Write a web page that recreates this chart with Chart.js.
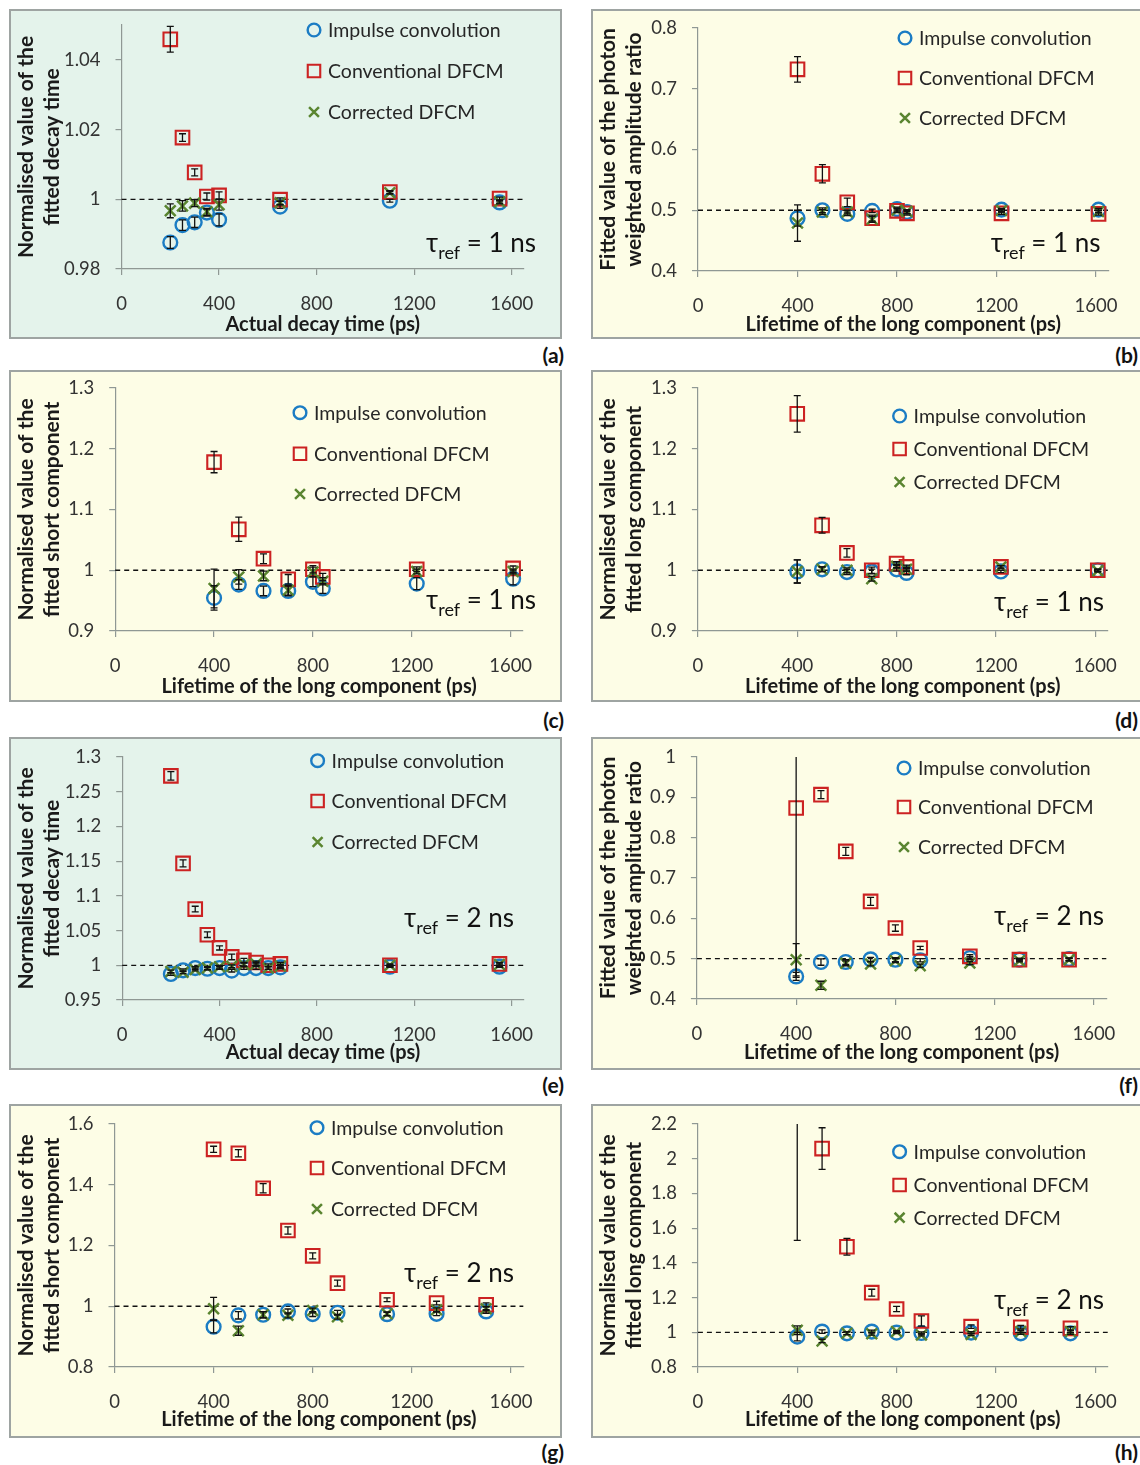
<!DOCTYPE html>
<html><head><meta charset="utf-8">
<script src="https://cdn.jsdelivr.net/npm/chart.js@4.4.1/dist/chart.umd.min.js"></script>
<style>
body{margin:0;background:#fff;width:1140px;height:1465px;position:relative;overflow:hidden;font-family:Lato,sans-serif}
.panel{position:absolute;box-sizing:border-box;border:2px solid #9ea4a2}
.green{background:#e4f3eb}
.yellow{background:#fdfde6}
canvas{position:absolute}
.lab{position:absolute;font:bold 21px Lato,sans-serif;color:#111;text-align:right;width:40px;line-height:24px}
</style></head><body>
<script>
// ---------------- DATA ----------------
const seriesNames = ['Impulse convolution', 'Conventional DFCM', 'Corrected DFCM'];
const xTickLabels = [0, 400, 800, 1200, 1600];
const panelLetters = ['(a)', '(b)', '(c)', '(d)', '(e)', '(f)', '(g)', '(h)'];
const tauLabels = ['1 ns', '1 ns', '1 ns', '1 ns', '2 ns', '2 ns', '2 ns', '2 ns'];
const refLines = [1, 0.5, 1, 1, 1, 0.5, 1, 1];
const yTitleDecay = ['Normalised value of the', 'fitted decay time'];
const yTitleRatio = ['Fitted value of the photon', 'weighted amplitude ratio'];
const yTitleShort = ['Normalised value of the', 'fitted short component'];
const yTitleLong = ['Normalised value of the', 'fitted long component'];
const xTitleActual = 'Actual decay time (ps)';
const xTitleLong = 'Lifetime of the long component (ps)';

// (a) tau_ref = 1 ns, decay time
const xA = [200, 250, 300, 350, 400, 650, 1100, 1550];
const aImp = [0.9876, 0.9926, 0.9934, 0.9962, 0.9941, 0.9979, 0.9996, 0.9991];
const aImpErr = [0.0017, 0.0015, 0.0015, 0.001, 0.0017, 0.0005, 0.0004, 0.0004];
const aConv = [1.0459, 1.0177, 1.0077, 1.0008, 1.0011, 0.9999, 1.0021, 1.0002];
const aConvErr = [0.0037, 0.0011, 0.001, 0.001, 0.001, 0.0005, 0.0004, 0.0004];
const aCorr = [0.9967, 0.9981, 0.9989, 0.9964, 0.9984, 0.999, 1.0019, 0.9993];
const aCorrErr = [0.002, 0.0015, 0.001, 0.001, 0.0015, 0.0005, 0.0004, 0.0004];
const aYTicks = [0.98, 1, 1.02, 1.04];

// (b) tau_ref = 1 ns, amplitude ratio
const xB = [400, 500, 600, 700, 800, 840, 1220, 1610];
const bImp = [0.487, 0.500, 0.494, 0.499, 0.502, 0.497, 0.501, 0.501];
const bImpErr = [0.013, 0.004, 0.003, 0.003, 0.003, 0.003, 0.002, 0.002];
const bConv = [0.732, 0.560, 0.513, 0.487, 0.499, 0.495, 0.495, 0.494];
const bConvErr = [0.021, 0.015, 0.007, 0.005, 0.003, 0.003, 0.002, 0.002];
const bCorr = [0.479, 0.497, 0.497, 0.485, 0.500, 0.498, 0.4995, 0.498];
const bCorrErr = [0.030, 0.004, 0.003, 0.005, 0.003, 0.003, 0.002, 0.002];
const bYTicks = [0.4, 0.5, 0.6, 0.7, 0.8];

// (c) tau_ref = 1 ns, short component
const xC = [400, 500, 600, 700, 800, 840, 1220, 1610];
const cImp = [0.9545, 0.9764, 0.966, 0.966, 0.981, 0.970, 0.978, 0.986];
const cImpErr = [0.02, 0.008, 0.008, 0.008, 0.008, 0.008, 0.01, 0.01];
const cConv = [1.178, 1.0674, 1.019, 0.985, 1.0016, 0.989, 1.0016, 1.003];
const cConvErr = [0.0175, 0.02, 0.008, 0.008, 0.006, 0.006, 0.004, 0.004];
const cCorr = [0.970, 0.989, 0.9907, 0.967, 0.997, 0.982, 0.998, 0.998];
const cCorrErr = [0.032, 0.012, 0.008, 0.008, 0.008, 0.006, 0.004, 0.004];
const cYTicks = [0.9, 1, 1.1, 1.2, 1.3];

// (d) tau_ref = 1 ns, long component
const xD = [400, 500, 600, 700, 800, 840, 1220, 1610];
const dImp = [0.998, 1.0016, 0.997, 0.998, 1.0016, 0.9956, 0.998, 1.0];
const dImpErr = [0.019, 0.004, 0.004, 0.004, 0.003, 0.003, 0.002, 0.002];
const dConv = [1.2575, 1.074, 1.0285, 1.0, 1.011, 1.0055, 1.0055, 1.0];
const dConvErr = [0.03, 0.013, 0.007, 0.005, 0.003, 0.003, 0.002, 0.002];
const dCorr = [0.998, 1.0016, 1.0, 0.986, 1.0066, 1.0016, 1.0055, 0.999];
const dCorrErr = [0.019, 0.004, 0.004, 0.004, 0.003, 0.003, 0.002, 0.002];
const dYTicks = [0.9, 1, 1.1, 1.2, 1.3];

// (e) tau_ref = 2 ns, decay time
const xE = [200, 250, 300, 350, 400, 450, 500, 550, 600, 650, 1100, 1550];
const eImp = [0.9875, 0.9928, 0.996, 0.995, 0.996, 0.9923, 0.996, 0.996, 0.996, 0.997, 0.998, 0.998];
const eImpErr = [0.002, 0.002, 0.002, 0.002, 0.002, 0.002, 0.002, 0.002, 0.002, 0.002, 0.001, 0.001];
const eConv = [1.2728, 1.1467, 1.081, 1.044, 1.025, 1.012, 1.007, 1.004, 1.0, 1.002, 1.0, 1.002];
const eConvErr = [0.006, 0.005, 0.004, 0.004, 0.003, 0.004, 0.003, 0.002, 0.002, 0.002, 0.002, 0.002];
const eCorr = [0.991, 0.990, 0.994, 0.996, 0.998, 0.9986, 1.001, 1.002, 0.996, 0.999, 1.0, 1.001];
const eCorrErr = [0.002, 0.002, 0.002, 0.002, 0.002, 0.002, 0.002, 0.002, 0.002, 0.002, 0.001, 0.001];
const eYTicks = [0.95, 1, 1.05, 1.1, 1.15, 1.2, 1.25, 1.3];

// (f) tau_ref = 2 ns, amplitude ratio
const xF = [400, 500, 600, 700, 800, 900, 1100, 1300, 1500];
const fImp = [0.456, 0.4917, 0.4917, 0.4983, 0.4975, 0.496, 0.5017, 0.4975, 0.499];
const fImpErr = [0.01, 0.008, 0.006, 0.005, 0.005, 0.004, 0.004, 0.003, 0.003];
const fConv = [0.8736, 0.9066, 0.766, 0.642, 0.576, 0.5264, 0.5058, 0.4975, 0.4975];
const fConvErr = [0.42, 0.01, 0.01, 0.01, 0.008, 0.004, 0.004, 0.003, 0.003];
const fCorr = [0.4975, 0.434, 0.4884, 0.487, 0.495, 0.4826, 0.489, 0.495, 0.4975];
const fCorrErr = [0.04, 0.01, 0.006, 0.005, 0.005, 0.004, 0.004, 0.003, 0.003];
const fYTicks = [0.4, 0.5, 0.6, 0.7, 0.8, 0.9, 1];

// (g) tau_ref = 2 ns, short component
const xG = [400, 500, 600, 700, 800, 900, 1100, 1300, 1500];
const gImp = [0.9326, 0.970, 0.972, 0.983, 0.9742, 0.9786, 0.974, 0.975, 0.983];
const gImpErr = [0.02, 0.012, 0.01, 0.008, 0.008, 0.008, 0.006, 0.006, 0.006];
const gConv = [1.5167, 1.5036, 1.3885, 1.2493, 1.166, 1.076, 1.0214, 1.0104, 1.005];
const gConvErr = [0.01, 0.012, 0.015, 0.012, 0.01, 0.01, 0.006, 0.006, 0.006];
const gCorr = [0.992, 0.9195, 0.972, 0.970, 0.986, 0.9655, 0.975, 0.9885, 0.992];
const gCorrErr = [0.037, 0.015, 0.01, 0.008, 0.008, 0.008, 0.006, 0.006, 0.006];
const gYTicks = [0.8, 1, 1.2, 1.4, 1.6];

// (h) tau_ref = 2 ns, long component
const xH = [400, 500, 600, 700, 800, 900, 1100, 1300, 1500];
const hImp = [0.975, 1.004, 0.994, 1.004, 0.998, 0.996, 0.998, 0.994, 0.994];
const hImpErr = [0.025, 0.01, 0.008, 0.008, 0.006, 0.006, 0.006, 0.006, 0.006];
const hConv = [2.6, 2.0585, 1.493, 1.228, 1.134, 1.065, 1.0326, 1.029, 1.023];
const hConvErr = [1.07, 0.12, 0.048, 0.02, 0.015, 0.03, 0.01, 0.01, 0.01];
const hCorr = [1.0115, 0.950, 0.994, 0.992, 1.004, 0.985, 0.988, 1.004, 1.004];
const hCorrErr = [0.025, 0.01, 0.008, 0.008, 0.006, 0.006, 0.006, 0.006, 0.006];
const hYTicks = [0.8, 1, 1.2, 1.4, 1.6, 1.8, 2, 2.2];

const panels = [
  {x: xA, imp: aImp, impErr: aImpErr, conv: aConv, convErr: aConvErr, corr: aCorr, corrErr: aCorrErr, yMin: 0.98, yMax: 1.05, yTicks: aYTicks, yTitle: yTitleDecay, xTitle: xTitleActual},
  {x: xB, imp: bImp, impErr: bImpErr, conv: bConv, convErr: bConvErr, corr: bCorr, corrErr: bCorrErr, yMin: 0.4, yMax: 0.8, yTicks: bYTicks, yTitle: yTitleRatio, xTitle: xTitleLong},
  {x: xC, imp: cImp, impErr: cImpErr, conv: cConv, convErr: cConvErr, corr: cCorr, corrErr: cCorrErr, yMin: 0.9, yMax: 1.3, yTicks: cYTicks, yTitle: yTitleShort, xTitle: xTitleLong},
  {x: xD, imp: dImp, impErr: dImpErr, conv: dConv, convErr: dConvErr, corr: dCorr, corrErr: dCorrErr, yMin: 0.9, yMax: 1.3, yTicks: dYTicks, yTitle: yTitleLong, xTitle: xTitleLong},
  {x: xE, imp: eImp, impErr: eImpErr, conv: eConv, convErr: eConvErr, corr: eCorr, corrErr: eCorrErr, yMin: 0.95, yMax: 1.3, yTicks: eYTicks, yTitle: yTitleDecay, xTitle: xTitleActual},
  {x: xF, imp: fImp, impErr: fImpErr, conv: fConv, convErr: fConvErr, corr: fCorr, corrErr: fCorrErr, yMin: 0.4, yMax: 1.0, yTicks: fYTicks, yTitle: yTitleRatio, xTitle: xTitleLong},
  {x: xG, imp: gImp, impErr: gImpErr, conv: gConv, convErr: gConvErr, corr: gCorr, corrErr: gCorrErr, yMin: 0.8, yMax: 1.6, yTicks: gYTicks, yTitle: yTitleShort, xTitle: xTitleLong},
  {x: xH, imp: hImp, impErr: hImpErr, conv: hConv, convErr: hConvErr, corr: hCorr, corrErr: hCorrErr, yMin: 0.8, yMax: 2.2, yTicks: hYTicks, yTitle: yTitleLong, xTitle: xTitleLong}
];

// ---------------- LAYOUT / STYLE ----------------
const X_MAX = 1650;
const BLUE = '#1b7cc4', RED = '#cc2222', GREEN = '#5a8530', AXIS = '#8f9894';
const layouts = [
  {cx: 10,  cy: 10,   w: 550, h: 330, plot: [111.5, 15, 514, 259],   leg: [304, [20, 61, 102]],    tau: [526, 233], box: [9, 9, 553, 330],    bg: 'green',  lab: [524, 343]},
  {cx: 592, cy: 10,   w: 548, h: 330, plot: [106, 18, 516.5, 261],   leg: [313, [28, 68, 108]],    tau: [508.6, 233], box: [591, 9, 551, 330], bg: 'yellow', lab: [1098, 343]},
  {cx: 10,  cy: 372,  w: 550, h: 330, plot: [105.2, 16, 513, 259],   leg: [290, [40.7, 81.7, 122]], tau: [526, 228], box: [9, 370, 553, 332],  bg: 'yellow', lab: [524, 708]},
  {cx: 592, cy: 372,  w: 548, h: 330, plot: [105.9, 16, 515.7, 259], leg: [307.6, [44, 77, 110]],  tau: [512, 230], box: [591, 370, 551, 332], bg: 'yellow', lab: [1098, 708]},
  {cx: 10,  cy: 738,  w: 550, h: 330, plot: [112.2, 19, 513.8, 262], leg: [307.6, [22.7, 63, 104]], tau: [504, 180], box: [9, 737, 553, 333],  bg: 'green',  lab: [524, 1073]},
  {cx: 592, cy: 738,  w: 548, h: 330, plot: [104.9, 19, 514.3, 261], leg: [312, [30, 69, 109]],    tau: [512, 178], box: [591, 737, 551, 333], bg: 'yellow', lab: [1098, 1073]},
  {cx: 10,  cy: 1105, w: 550, h: 330, plot: [104.5, 19, 513.3, 262], leg: [307, [22.7, 63, 104]],  tau: [504, 168], box: [9, 1104, 553, 334], bg: 'yellow', lab: [524, 1440]},
  {cx: 592, cy: 1105, w: 548, h: 330, plot: [105.9, 19, 515.7, 262], leg: [307.6, [46.7, 80, 112.7]], tau: [512, 195], box: [591, 1104, 551, 334], bg: 'yellow', lab: [1098, 1440]}
];

Chart.defaults.font.family = 'Lato, sans-serif';

const refLinePlugin = {
  id: 'refLine',
  beforeDatasetsDraw(chart, args, opts) {
    const {ctx, chartArea: a, scales: {y}} = chart;
    const py = y.getPixelForValue(opts.value);
    ctx.save();
    ctx.strokeStyle = '#111'; ctx.lineWidth = 1.3; ctx.setLineDash([5, 4]);
    ctx.beginPath(); ctx.moveTo(a.left, py); ctx.lineTo(a.right, py); ctx.stroke();
    ctx.restore();
  }
};

const errorBarPlugin = {
  id: 'errorBars',
  afterDatasetsDraw(chart) {
    const {ctx, chartArea: a, scales: {y}} = chart;
    ctx.save();
    ctx.beginPath(); ctx.rect(a.left, a.top, a.right - a.left, a.bottom - a.top); ctx.clip();
    ctx.strokeStyle = '#111'; ctx.lineWidth = 1.3;
    chart.data.datasets.forEach((ds, di) => {
      const meta = chart.getDatasetMeta(di);
      ds.data.forEach((pt, i) => {
        const e = ds.errors[i];
        const px = meta.data[i].x;
        const y1 = y.getPixelForValue(pt.y - e), y2 = y.getPixelForValue(pt.y + e);
        ctx.beginPath();
        ctx.moveTo(px, y1); ctx.lineTo(px, y2);
        ctx.moveTo(px - 3.5, y1); ctx.lineTo(px + 3.5, y1);
        ctx.moveTo(px - 3.5, y2); ctx.lineTo(px + 3.5, y2);
        ctx.stroke();
      });
    });
    ctx.restore();
  }
};

const legendPlugin = {
  id: 'insideLegend',
  afterDraw(chart, args, opts) {
    const {ctx} = chart;
    ctx.save();
    chart.data.datasets.forEach((ds, i) => {
      const x = opts.x, yy = opts.ys[i];
      ctx.strokeStyle = ds.pointBorderColor; ctx.fillStyle = 'rgba(0,0,0,0)';
      ctx.lineWidth = ds.pointBorderWidth;
      Chart.helpers.drawPoint(ctx, {pointStyle: ds.pointStyle, radius: ds.pointRadius * 0.92, borderWidth: ds.pointBorderWidth, rotation: 0}, x, yy);
      ctx.fillStyle = '#262626';
      ctx.font = '19.5px Lato, sans-serif';
      ctx.textBaseline = 'middle'; ctx.textAlign = 'left';
      ctx.fillText(ds.label, x + 14, yy + 1);
    });
    ctx.restore();
  }
};

const tauPlugin = {
  id: 'tauLabel',
  afterDraw(chart, args, opts) {
    const {ctx} = chart;
    ctx.save();
    ctx.fillStyle = '#111';
    ctx.textBaseline = 'alphabetic'; ctx.textAlign = 'left';
    const big = '26px Lato, sans-serif', small = '18px Lato, sans-serif';
    const t1 = '\u03C4', t2 = 'ref', t3 = ' = ' + opts.text;
    ctx.font = big; const w1 = ctx.measureText(t1).width, w3 = ctx.measureText(t3).width;
    ctx.font = small; const w2 = ctx.measureText(t2).width;
    const base = opts.y + 9;
    let x = opts.x - (w1 + w2 + w3);
    ctx.font = big; ctx.fillText(t1, x, base); x += w1;
    ctx.font = small; ctx.fillText(t2, x, base + 7); x += w2;
    ctx.font = big; ctx.fillText(t3, x, base);
    ctx.restore();
  }
};

function build(p, L, k) {
  const box = document.createElement('div');
  box.className = 'panel ' + L.bg;
  Object.assign(box.style, {left: L.box[0] + 'px', top: L.box[1] + 'px', width: L.box[2] + 'px', height: L.box[3] + 'px'});
  document.body.appendChild(box);
  const lab = document.createElement('div');
  lab.className = 'lab'; lab.textContent = panelLetters[k];
  Object.assign(lab.style, {left: L.lab[0] + 'px', top: L.lab[1] + 'px'});
  document.body.appendChild(lab);

  const cv = document.createElement('canvas');
  cv.width = L.w; cv.height = L.h;
  Object.assign(cv.style, {left: L.cx + 'px', top: L.cy + 'px', width: L.w + 'px', height: L.h + 'px'});
  document.body.appendChild(cv);
  const [pl, pt, pr, pb] = L.plot;
  const pts = vals => p.x.map((x, i) => ({x: x, y: vals[i]}));
  const tickFont = {size: 18.5};
  new Chart(cv, {
    type: 'scatter',
    data: {datasets: [
      {label: seriesNames[0], data: pts(p.imp), errors: p.impErr, pointStyle: 'circle', pointRadius: 6.9, pointBorderWidth: 2.4, pointBorderColor: BLUE, pointBackgroundColor: 'rgba(0,0,0,0)', order: 3},
      {label: seriesNames[1], data: pts(p.conv), errors: p.convErr, pointStyle: 'rect', pointRadius: 9.6, pointBorderWidth: 2.1, pointBorderColor: RED, pointBackgroundColor: 'rgba(0,0,0,0)', order: 2},
      {label: seriesNames[2], data: pts(p.corr), errors: p.corrErr, pointStyle: 'crossRot', pointRadius: 7.6, pointBorderWidth: 2.5, pointBorderColor: GREEN, pointBackgroundColor: 'rgba(0,0,0,0)', order: 1}
    ]},
    options: {
      responsive: false, animation: false, devicePixelRatio: 1,
      events: [],
      layout: {padding: {left: 0, top: pt, right: L.w - pr, bottom: 0}},
      scales: {
        x: {
          type: 'linear', min: 0, max: X_MAX,
          afterFit: s => { s.height = L.h - pb; s.paddingLeft = 0; s.paddingRight = 0; },
          afterBuildTicks: s => { s.ticks = xTickLabels.map(v => ({value: v})); },
          ticks: {padding: 18, font: tickFont, color: '#333', maxRotation: 0, autoSkip: false, callback: v => String(v)},
          grid: {drawOnChartArea: false, drawTicks: true, tickLength: 6, color: AXIS, lineWidth: 1.2},
          border: {color: AXIS, width: 1.2},
          title: {display: true, text: p.xTitle, color: '#1a1a1a', font: {size: 20, weight: 'bold', lineHeight: 1.15}, padding: {top: 0, bottom: 4}}
        },
        y: {
          type: 'linear', min: p.yMin, max: p.yMax,
          afterFit: s => { s.width = pl; s.paddingTop = 0; s.paddingBottom = 0; },
          afterBuildTicks: s => { s.ticks = p.yTicks.map(v => ({value: v})); },
          ticks: {padding: 15, font: tickFont, color: '#333', autoSkip: false, callback: v => String(v)},
          grid: {drawOnChartArea: false, drawTicks: true, tickLength: 6, color: AXIS, lineWidth: 1.2},
          border: {color: AXIS, width: 1.2},
          title: {display: true, text: p.yTitle, color: '#1a1a1a', font: {size: 21, weight: 'bold', lineHeight: 1.24}, padding: {top: 3, bottom: 0}}
        }
      },
      plugins: {
        legend: {display: false}, tooltip: {enabled: false},
        refLine: {value: refLines[k]},
        insideLegend: {x: L.leg[0], ys: L.leg[1]},
        tauLabel: {x: L.tau[0], y: L.tau[1], text: tauLabels[k]}
      }
    },
    plugins: [refLinePlugin, errorBarPlugin, legendPlugin, tauPlugin]
  });
}

panels.forEach((p, k) => build(p, layouts[k], k));
</script>
</body></html>
